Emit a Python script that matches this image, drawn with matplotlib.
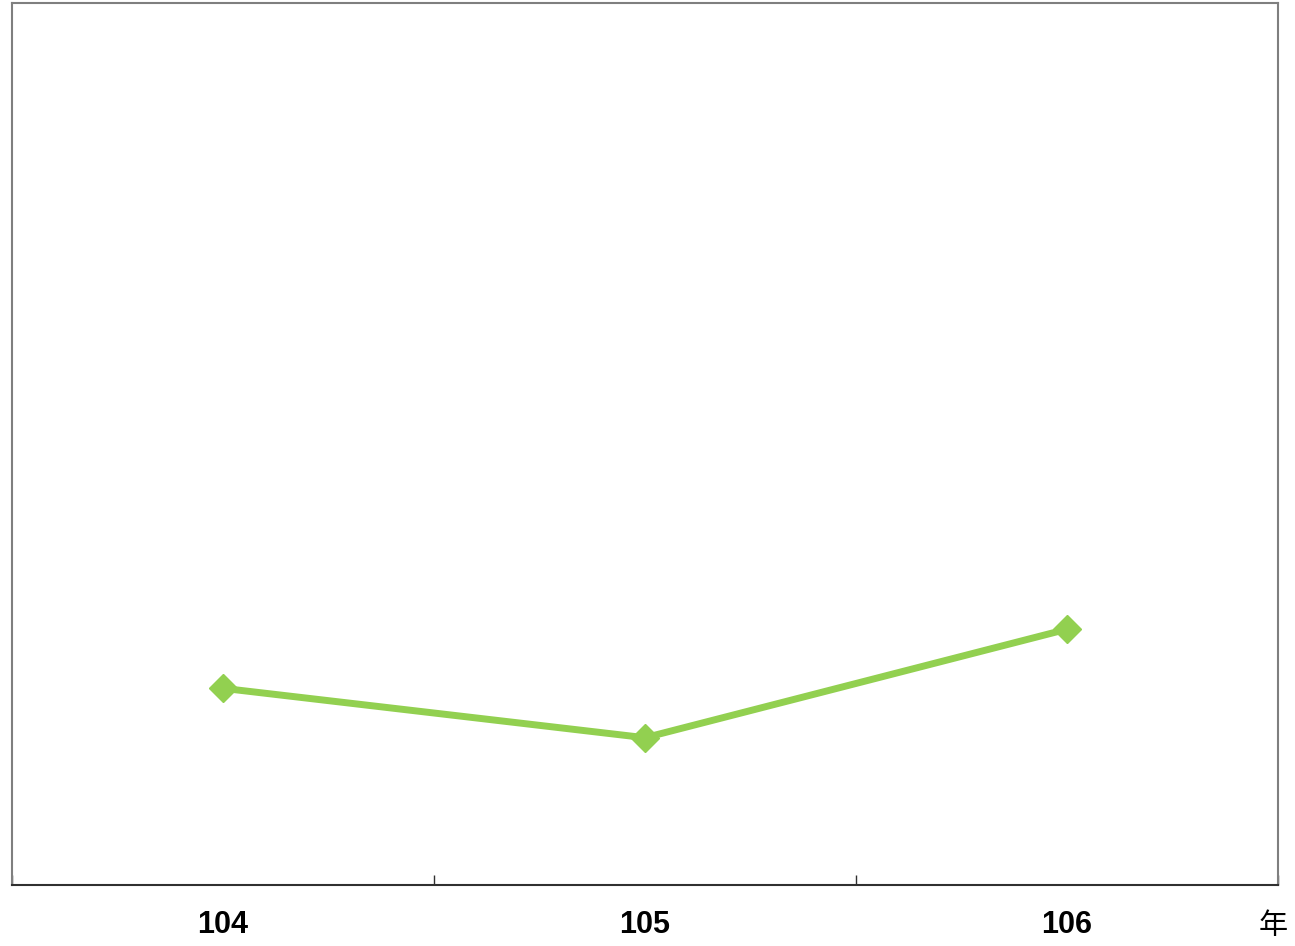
import matplotlib
matplotlib.use("Agg")
import matplotlib.pyplot as plt

years = ["104", "105", "106"]
values = [22.3, 16.7, 29.0]
unit_label = "年"

fig = plt.figure(figsize=(12.95, 9.46), dpi=100)
ax = fig.add_axes([12/1295, 61/946, 1266/1295, 882/946])

x = list(range(len(years)))
ax.plot(x, values, color="#92D050", linewidth=5, marker="D", markersize=14,
        markerfacecolor="#92D050", markeredgecolor="#92D050", solid_joinstyle="miter")

ax.set_xlim(-0.5, len(years) - 0.5)
ax.set_ylim(0, 100)
ax.set_yticks([])
ax.set_xticks(x)
ax.set_xticklabels(years, fontsize=22, fontweight="bold", family=["Liberation Sans", "DejaVu Sans"])
ax.tick_params(axis="x", which="major", length=0, pad=18)
ax.set_xticks([i - 0.5 for i in range(len(years) + 1)], minor=True)
ax.tick_params(axis="x", which="minor", direction="in", length=7, width=1, color="#303030")

for s in ["top", "left", "right"]:
    ax.spines[s].set_color("#7F7F7F")
    ax.spines[s].set_linewidth(1.5)
ax.spines["bottom"].set_color("#303030")
ax.spines["bottom"].set_linewidth(1.5)

fig.text(1273/1295, 1 - 926/946, unit_label, fontsize=21, ha="center", va="center",
         family=["Noto Sans CJK TC", "DejaVu Sans"])

fig.savefig("out.png", dpi=100, facecolor="white")
